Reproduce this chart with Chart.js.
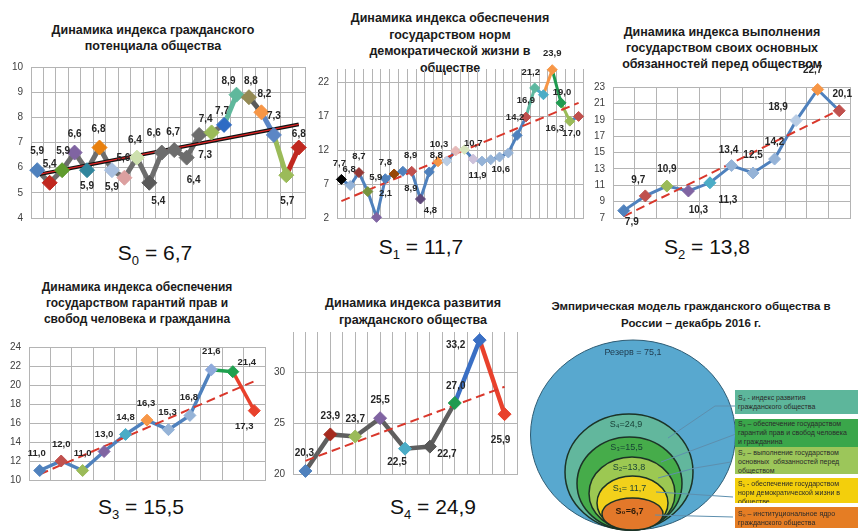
<!DOCTYPE html>
<html lang="ru">
<head>
<meta charset="utf-8">
<title>Динамика индексов гражданского общества</title>
<script src="https://cdn.jsdelivr.net/npm/chart.js@4.4.1/dist/chart.umd.min.js"></script>
<style>
  html, body { margin: 0; padding: 0; background: #fff; overflow: hidden; }
  #page { position: relative; width: 858px; height: 531px; font-family: "Liberation Sans", Arial, sans-serif; color: #1a1a1a; }
  canvas { position: absolute; }
  .ttl { position: absolute; width: 300px; text-align: center; font-weight: bold; font-size: 12.5px; line-height: 16px; }
  .sval { position: absolute; width: 160px; text-align: center; font-size: 21px; line-height: 24px; color: #111; }
  .sval sub { font-size: 13px; line-height: 0; }
  .box { position: absolute; left: 735px; width: 123px; font-size: 7px; line-height: 9px; padding-left: 3px; box-sizing: border-box; color: #2a2a2a; overflow: hidden; }
</style>
</head>
<body>
<div id="page">
  <div class="ttl" style="left:3px;top:23px;line-height:15.5px">Динамика индекса гражданского<br>потенциала общества</div>
  <div class="ttl" style="left:300px;top:10px;line-height:16.7px">Динамика индекса обеспечения<br>государством норм<br>демократической жизни в<br>обществе</div>
  <div class="ttl" style="left:572px;top:24px;line-height:16.2px">Динамика индекса выполнения<br>государством своих основных<br>обязанностей перед обществом</div>
  <div class="ttl" style="left:-13px;top:280px;line-height:15.8px;font-size:12px">Динамика индекса обеспечения<br>государством гарантий прав и<br>свобод человека и гражданина</div>
  <div class="ttl" style="left:263px;top:295px;line-height:16.7px">Динамика индекса развития<br>гражданского общества</div>
  <div class="ttl" style="left:541px;top:298px;line-height:16.7px;font-size:11.5px">Эмпирическая модель гражданского общества в<br>России – декабрь 2016 г.</div>

  <div class="sval" style="left:75px;top:241px">S<sub>0</sub> = 6,7</div>
  <div class="sval" style="left:341px;top:235px">S<sub>1</sub> = 11,7</div>
  <div class="sval" style="left:627px;top:235px">S<sub>2</sub> = 13,8</div>
  <div class="sval" style="left:61px;top:495px">S<sub>3</sub> = 15,5</div>
  <div class="sval" style="left:353px;top:495px">S<sub>4</sub> = 24,9</div>

  <canvas id="c0"></canvas>
  <canvas id="c1"></canvas>
  <canvas id="c2"></canvas>
  <canvas id="c3"></canvas>
  <canvas id="c4"></canvas>
  <canvas id="cm"></canvas>

  <div class="box" style="top:390px;height:24px;padding-top:3px;background:#5db69b">S₄ - индекс развития<br>гражданского общества</div>
  <div class="box" style="top:419px;height:28px;padding-top:0px;background:#3aa64a">S₃ – обеспечение государством<br>гарантий прав и свобод человека<br>и гражданина</div>
  <div class="box" style="top:447px;height:27px;padding-top:1px;background:#9cc65a">S₂ – выполнение государством<br>основных&nbsp; обязанностей перед<br>обществом</div>
  <div class="box" style="top:478px;height:25px;padding-top:1px;background:#f3cf0c">S₁ - обеспечение государством<br>норм демократической жизни в<br>обществе</div>
  <div class="box" style="top:507px;height:21px;padding-top:2px;background:#e57d24">S₀ – институциональное ядро<br>гражданского общества</div>
</div>

<script>
// ---- data ----
var s0Values = [5.9, 5.4, 5.9, 6.6, 5.9, 6.8, 5.9, 5.6, 6.4, 5.4, 6.6, 6.7, 6.4, 7.3, 7.4, 7.7, 8.9, 8.8, 8.2, 7.3, 5.7, 6.8];
var s0Trend = [5.72, 7.72];
var s0YTicks = [4, 5, 6, 7, 8, 9, 10];

var s1Values = [7.7, 6.8, 8.7, 5.9, 2.1, 7.8, 8.5, 8.9, 8.9, 4.8, 8.8, 10.3, 10.4, 11.9, 12.1, 10.7, 10.4, 10.6, 11.0, 11.6, 14.2, 16.9, 21.2, 20.2, 23.9, 19.0, 16.3, 17.0];
var s1Trend = [4.5, 19.0];
var s1YTicks = [2, 7, 12, 17, 22];

var s2Values = [7.9, 9.7, 10.9, 10.3, 11.3, 13.4, 12.5, 14.2, 18.9, 22.7, 20.1];
var s2Trend = [7.2, 20.2];
var s2YTicks = [7, 9, 11, 13, 15, 17, 19, 21, 23];

var s3Values = [11.0, 12.0, 11.0, 13.0, 14.8, 16.3, 15.3, 16.8, 21.6, 21.4, 17.3];
var s3Trend = [10.6, 20.4];
var s3YTicks = [10, 12, 14, 16, 18, 20, 22, 24];

var s4Values = [20.3, 23.9, 23.7, 25.5, 22.5, 22.7, 27.0, 33.2, 25.9];
var s4Trend = [21.3, 28.6];
var s4YTicks = [20, 25, 30];

// nested model: reserve, S4, S3, S2, S1, S0
var circleNames = ["Резерв = 75,1", "S₄=24,9", "S₃=15,5", "S₂=13,8", "S₁= 11,7", "S₀=6,7"];
var circleRx = [102.5, 64, 52.5, 43, 35.5, 30.5];
var circleRy = [95, 58, 46.5, 36.5, 27, 16];
var circleCx = [0, -4, -3.5, -1, -0.5, -0.5];

// ---- styles ----
var GRID = "#b4b4b4";
var TREND = "#d9372b";
Chart.defaults.font.family = '"Liberation Sans", Arial, sans-serif';
Chart.defaults.animation = false;

function fmt(v) { return v.toFixed(1).replace(".", ","); }

function labelPlugin(values, offs, font) {
    return {
        id: "ptlabels",
        afterDatasetsDraw: function (chart) {
            var meta = chart.getDatasetMeta(0);
            var ctx = chart.ctx;
            ctx.save();
            ctx.font = font;
            ctx.fillStyle = "#262626";
            ctx.textAlign = "center";
            ctx.textBaseline = "middle";
            meta.data.forEach(function (pt, i) {
                if (!offs[i]) return;
                ctx.fillText(fmt(values[i]), pt.x + offs[i][0], pt.y + offs[i][1]);
            });
            ctx.restore();
        }
    };
}

function makeLineChart(id, plot, s) {
    var padL = 40, padT = 26, padR = 20, padB = 30;
    var cv = document.getElementById(id);
    cv.width = plot[2] - plot[0] + padL + padR;
    cv.height = plot[3] - plot[1] + padT + padB;
    cv.style.left = (plot[0] - padL) + "px";
    cv.style.top = (plot[1] - padT) + "px";

    var n = s.values.length;
    var pts = s.values.map(function (v, i) { return { x: i, y: v }; });
    var trendPts = [{ x: 0, y: s.trend[0] }, { x: n - 1, y: s.trend[1] }];
    var xTicks = [];
    for (var k = -0.5; k <= n - 0.5 + 1e-9; k += s.xStep) xTicks.push(k);

    var datasets = [{
        data: pts,
        showLine: false,
        pointStyle: "rectRot",
        pointRadius: s.r,
        pointHoverRadius: s.r,
        pointBackgroundColor: s.colors,
        pointBorderColor: s.colors,
        pointBorderWidth: 1,
        clip: false
    }];
    if (s.blackTrend) {
        datasets.push({ data: trendPts, borderColor: "#e02424", borderWidth: 1.3, pointRadius: 0, clip: false });
        datasets.push({ data: trendPts, borderColor: "#111", borderWidth: 3.6, pointRadius: 0, clip: false });
    } else {
        datasets.push({ data: trendPts, borderColor: TREND, borderWidth: 2, borderDash: [9, 5], pointRadius: 0, clip: false });
    }
    datasets.push({
        data: pts,
        borderColor: s.segColors[0],
        borderWidth: s.lw,
        pointRadius: 0,
        clip: false,
        segment: { borderColor: function (c) { return s.segColors[c.p0DataIndex]; } }
    });

    return new Chart(cv, {
        type: "line",
        data: { datasets: datasets },
        options: {
            responsive: false,
            layout: { padding: { left: 0, top: padT, right: padR, bottom: padB } },
            plugins: { legend: { display: false }, tooltip: { enabled: false } },
            scales: {
                x: {
                    type: "linear", min: -0.5, max: n - 0.5,
                    ticks: { display: false },
                    grid: { color: GRID, drawTicks: false },
                    border: { color: GRID },
                    afterBuildTicks: function (sc) { sc.ticks = xTicks.map(function (v) { return { value: v }; }); },
                    afterFit: function (sc) { sc.height = 0; }
                },
                y: {
                    type: "linear", min: s.yMin, max: s.yMax,
                    ticks: { color: "#404040", font: { size: 10 }, padding: 8 },
                    grid: { color: GRID, drawTicks: false },
                    border: { color: GRID },
                    afterBuildTicks: function (sc) { sc.ticks = s.yTicks.map(function (v) { return { value: v }; }); },
                    afterFit: function (sc) { sc.width = padL; }
                }
            }
        },
        plugins: [labelPlugin(s.values, s.offs, s.font)]
    });
}

// S0 - civic potential
makeLineChart("c0", [31, 67, 305, 218], {
    values: s0Values, trend: s0Trend, yTicks: s0YTicks, yMin: 4, yMax: 10, xStep: 1,
    r: 7.5, lw: 5, blackTrend: true, font: 'bold 10px "Liberation Sans"',
    colors: ["#4f81bd", "#c0281f", "#5f9b2e", "#8064a2", "#31859c", "#e8800e", "#a9c0e0", "#dca0a0", "#cde0ae", "#5a5a5a", "#6d6d6d",
             "#6d6d6d", "#6d6d6d", "#6d6d6d", "#9bbb59", "#2e6bc4", "#5fb89c", "#948a54", "#f79646", "#5b86c5", "#9bbb59", "#c0281f"],
    segColors: ["#6d6d6d", "#6d6d6d", "#6d6d6d", "#6d6d6d", "#6d6d6d", "#6d6d6d", "#6d6d6d", "#6d6d6d", "#6d6d6d", "#6d6d6d", "#6d6d6d",
                "#6d6d6d", "#6d6d6d", "#6d6d6d", "#6d6d6d", "#5fb89c", "#948a54", "#595959", "#5b86c5", "#9bbb59", "#c0281f"],
    offs: [[0, -19], [0, -19], [1, -19], [0, -18], [0, 16], [-1, -18], [0, 17], [-1, -19], [-2, -17], [9, 18], [-8, -19],
           [-1, -18], [7, 23], [6, 20], [-6, -13], [-2, -14], [-8, -13], [2, -16], [3, -18], [0, -19], [1, 26], [0, -13]]
});

// S1 - democratic norms
makeLineChart("c1", [337, 69, 583, 218], {
    values: s1Values, trend: s1Trend, yTicks: s1YTicks, yMin: 2, yMax: 24, xStep: 1,
    r: 5, lw: 3, font: 'bold 9.5px "Liberation Sans"',
    colors: ["#000000", "#95b3d7", "#953735", "#77933c", "#8064a2", "#4f81bd", "#984807", "#4f81bd", "#c0504d", "#5f497a",
             "#4f81bd", "#f79646", "#b9cde5", "#e6b9b8", "#d7e4bd", "#ccc1da", "#95b3d7", "#95b3d7", "#95b3d7", "#95b3d7",
             "#4f81bd", "#c0504d", "#5db8a0", "#4bacc6", "#f79646", "#1f9b50", "#9bbb59", "#c0504d"],
    segColors: ["#4f81bd", "#4f81bd", "#4f81bd", "#4f81bd", "#4f81bd", "#4f81bd", "#4f81bd", "#4f81bd", "#4f81bd", "#4f81bd",
                "#4f81bd", "#4f81bd", "#4f81bd", "#4f81bd", "#4f81bd", "#4f81bd", "#4f81bd", "#4f81bd", "#4f81bd", "#4f81bd",
                "#4f81bd", "#5db8a0", "#4bacc6", "#f79646", "#1f9b50", "#9bbb59", "#4f81bd"],
    offs: [[-2, -16], [-1, -16], [0, -16], [8, -14], [9, -24], [0, -16], null, [8, 17], [-1, -16], [10, 11],
           [7, -17], [1, -17], null, [22, 24], null, [0, -16], null, [10, 10], null, null,
           [-2, -18], [0, -17], [-4, -16], null, [0, -16], [1, -10], [-15, 7], [-7, 17]]
});

// S2 - state obligations
makeLineChart("c2", [613, 87, 850, 218], {
    values: s2Values, trend: s2Trend, yTicks: s2YTicks, yMin: 7, yMax: 23, xStep: 1,
    r: 6, lw: 3, font: 'bold 10px "Liberation Sans"',
    colors: ["#4f81bd", "#c0504d", "#9bbb59", "#8064a2", "#4bacc6", "#95b3d7", "#95b3d7", "#95b3d7", "#b9cde5", "#f79646", "#c0504d"],
    segColors: ["#4f81bd", "#4f81bd", "#4f81bd", "#4f81bd", "#4f81bd", "#4f81bd", "#4f81bd", "#4f81bd", "#4f81bd", "#4f81bd"],
    offs: [[8, 12], [-7, -16], [0, -17], [10, 19], [18, 17], [-3, -15], [0, -18], [0, -17], [-18, -13], [-5, -19], [3, -16]]
});

// S3 - rights and freedoms
makeLineChart("c3", [29, 347, 265, 480], {
    values: s3Values, trend: s3Trend, yTicks: s3YTicks, yMin: 10, yMax: 24, xStep: 1,
    r: 6, lw: 3.5, font: 'bold 9.5px "Liberation Sans"',
    colors: ["#4f81bd", "#c0504d", "#9bbb59", "#8064a2", "#4bacc6", "#f79646", "#95b3d7", "#95b3d7", "#8eaadb", "#1fa04f", "#e8412c"],
    segColors: ["#4f81bd", "#4f81bd", "#4f81bd", "#4f81bd", "#4f81bd", "#4f81bd", "#4f81bd", "#4f81bd", "#1fa04f", "#e8412c"],
    offs: [[-3, -17], [0, -17], [0, -17], [0, -17], [0, -17], [-1, -17], [-1, -17], [-1, -18], [0, -18], [14, -9], [-10, 16]]
});

// S4 - civil society development
makeLineChart("c4", [293, 332, 517, 474], {
    values: s4Values, trend: s4Trend, yTicks: s4YTicks, yMin: 20, yMax: 34, xStep: 0.5,
    r: 6.5, lw: 4.5, font: 'bold 10px "Liberation Sans"',
    colors: ["#4f81bd", "#a52a1e", "#9bbb59", "#8064a2", "#4bacc6", "#595959", "#1f9b50", "#3a6fc4", "#e8412c"],
    segColors: ["#5f5f5f", "#5f5f5f", "#5f5f5f", "#5f5f5f", "#5f5f5f", "#5f5f5f", "#3a6fc4", "#e8412c"],
    offs: [[-1, -18], [0, -18], [0, -17], [0, -18], [-8, 14], [17, 8], [1, -17], [-24, 5], [-4, 26]]
});

// ---- nested model ----
var circleFill = ["#58a8cf", "#62b79d", "#46ac4a", "#9cc852", "#f2d11b", "#e3782a"];
var circleTextDy = [13, 11, 11, 11, 13, 14];
var connectors = [
    [[668, 438], [715, 406], [736, 406]],
    [[661, 462], [736, 434]],
    [[658, 478], [695, 468], [731, 462]],
    [[656, 492], [688, 494], [733, 497]],
    [[655, 515], [733, 517]]
];
var cmBox = { left: 528, top: 330, w: 215, h: 201 };

var circlePlugin = {
    id: "circles",
    beforeDatasetsDraw: function (chart) {
        var xs = chart.scales.x, ys = chart.scales.y, ctx = chart.ctx;
        ctx.save();
        circleRx.forEach(function (rx, i) {
            var cx = xs.getPixelForValue(circleCx[i]);
            var cy = ys.getPixelForValue(circleRy[i]);
            var px = xs.getPixelForValue(circleCx[i] + rx) - cx;
            var py = cy - ys.getPixelForValue(2 * circleRy[i]);
            ctx.beginPath();
            ctx.ellipse(cx, cy, px, py, 0, 0, Math.PI * 2);
            ctx.fillStyle = circleFill[i];
            ctx.fill();
            ctx.lineWidth = i === 0 ? 1 : 1.5;
            ctx.strokeStyle = i === 0 ? "#2d5b73" : "#1c3326";
            ctx.stroke();
        });
        // connectors to the legend boxes
        ctx.lineWidth = 1;
        ctx.strokeStyle = "#5d8fae";
        connectors.forEach(function (path) {
            ctx.beginPath();
            path.forEach(function (p, j) {
                var x = p[0] - cmBox.left, y = p[1] - cmBox.top;
                if (j === 0) ctx.moveTo(x, y); else ctx.lineTo(x, y);
            });
            ctx.stroke();
        });
        // names inside the ellipses
        ctx.textAlign = "center";
        ctx.textBaseline = "middle";
        circleNames.forEach(function (t, i) {
            var cx = xs.getPixelForValue(circleCx[i]);
            var top = ys.getPixelForValue(2 * circleRy[i]);
            ctx.font = (i === 5 ? "bold " : "") + '9px "Liberation Sans", "DejaVu Sans"';
            ctx.fillStyle = i === 0 ? "#1f3a4d" : (i === 5 ? "#2b1a0a" : "#173f35");
            ctx.fillText(t, cx - (i === 0 ? 0 : 3), top + circleTextDy[i]);
        });
        ctx.restore();
    }
};

var cm = document.getElementById("cm");
cm.width = cmBox.w;
cm.height = cmBox.h;
cm.style.left = cmBox.left + "px";
cm.style.top = cmBox.top + "px";
new Chart(cm, {
    type: "scatter",
    data: {
        datasets: [{
            data: circleRx.map(function (rx, i) { return { x: circleCx[i], y: circleRy[i] }; }),
            pointRadius: 0
        }]
    },
    options: {
        responsive: false,
        layout: { padding: 0 },
        plugins: { legend: { display: false }, tooltip: { enabled: false } },
        scales: {
            x: { display: false, min: -105, max: 110 },
            y: { display: false, min: -1, max: 200 }
        }
    },
    plugins: [circlePlugin]
});
</script>
</body>
</html>
